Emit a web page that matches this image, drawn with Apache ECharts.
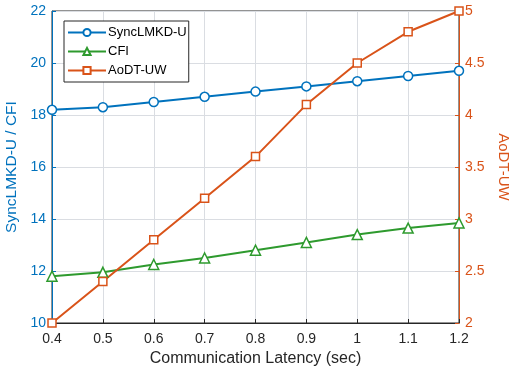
<!DOCTYPE html>
<html><head><meta charset="utf-8">
<script src="https://cdn.jsdelivr.net/npm/echarts@6/dist/echarts.min.js"></script>
<style>html,body{margin:0;padding:0;background:#fff}#c{width:516px;height:374px}</style>
</head><body><div id="c"></div>
<script>
const categories = ['0.4','0.5','0.6','0.7','0.8','0.9','1','1.1','1.2'];
const syncLMKD = [18.2, 18.3, 18.5, 18.7, 18.9, 19.1, 19.3, 19.5, 19.7];
const cfi = [11.8, 11.95, 12.25, 12.5, 12.8, 13.1, 13.4, 13.65, 13.85];
const aodt = [2.0, 2.4, 2.8, 3.2, 3.6, 4.1, 4.5, 4.8, 5.0];

const FONT = 'Liberation Sans, Arial, sans-serif';
const BLUE = '#0072BD', GREEN = '#2E9A2E', ORANGE = '#D95319', DARK = '#262626';
const chart = echarts.init(document.getElementById('c'));
function ser(name, data, color, symbol, yIdx, size) {
  return {
    name, type: 'line', data, yAxisIndex: yIdx, symbol, symbolSize: size,
    showAllSymbol: true,
    lineStyle: { color, width: 2 },
    itemStyle: { color: '#fff', borderColor: color, borderWidth: 1.5 },
    emphasis: { disabled: true }, animation: false, z: 3
  };
}
chart.setOption({
  animation: false,
  textStyle: { fontFamily: FONT },
  grid: { left: 52, right: 57, top: 11, bottom: 51, containLabel: false, outerBoundsMode: 'none',
    show: true, borderColor: DARK, borderWidth: 1, backgroundColor: 'transparent' },
  legend: {
    orient: 'vertical', left: 64, top: 21, padding: [5, 2, 5, 3], itemGap: 6,
    itemWidth: 38, itemHeight: 9,
    backgroundColor: '#fff', borderColor: DARK, borderWidth: 1,
    textStyle: { fontFamily: FONT, fontSize: 13, color: '#000', padding: [0, 0, 0, -3] },
    data: ['SyncLMKD-U', 'CFI', 'AoDT-UW']
  },
  xAxis: {
    type: 'category', data: categories, boundaryGap: false,
    name: 'Communication Latency (sec)', nameLocation: 'middle', nameGap: 26,
    nameTextStyle: { fontSize: 16, color: DARK, fontFamily: FONT },
    axisLine: { lineStyle: { color: DARK, width: 1 } },
    axisTick: { inside: true, length: 4, lineStyle: { color: DARK } },
    axisLabel: { fontSize: 14, color: DARK, margin: 9, fontFamily: FONT },
    splitLine: { show: true, lineStyle: { color: '#DADDE2', width: 1 } }
  },
  yAxis: [{
    type: 'value', min: 10, max: 22, interval: 2, position: 'left',
    name: 'SyncLMKD-U / CFI', nameLocation: 'middle', nameGap: 27,
    nameTextStyle: { fontSize: 15.5, color: BLUE, fontFamily: FONT },
    axisLine: { show: true, lineStyle: { color: BLUE, width: 1 } },
    axisTick: { show: true, inside: true, length: 4, lineStyle: { color: BLUE } },
    axisLabel: { fontSize: 14, color: BLUE, margin: 6, fontFamily: FONT },
    splitLine: { show: true, lineStyle: { color: '#DADDE2', width: 1 } }
  }, {
    type: 'value', min: 2, max: 5, interval: 0.5, position: 'right',
    name: 'AoDT-UW', nameLocation: 'middle', nameGap: 32, nameRotate: -90,
    nameTextStyle: { fontSize: 15, color: ORANGE, fontFamily: FONT },
    axisLine: { show: true, lineStyle: { color: ORANGE, width: 1 } },
    axisTick: { show: true, inside: true, length: 4, lineStyle: { color: ORANGE } },
    axisLabel: { fontSize: 14, color: ORANGE, margin: 6, fontFamily: FONT },
    splitLine: { show: false }
  }],
  series: [
    ser('SyncLMKD-U', syncLMKD, BLUE, 'circle', 0, 9),
    ser('CFI', cfi, GREEN, 'triangle', 0, 10),
    ser('AoDT-UW', aodt, ORANGE, 'rect', 1, 8)
  ]
});
</script></body></html>
